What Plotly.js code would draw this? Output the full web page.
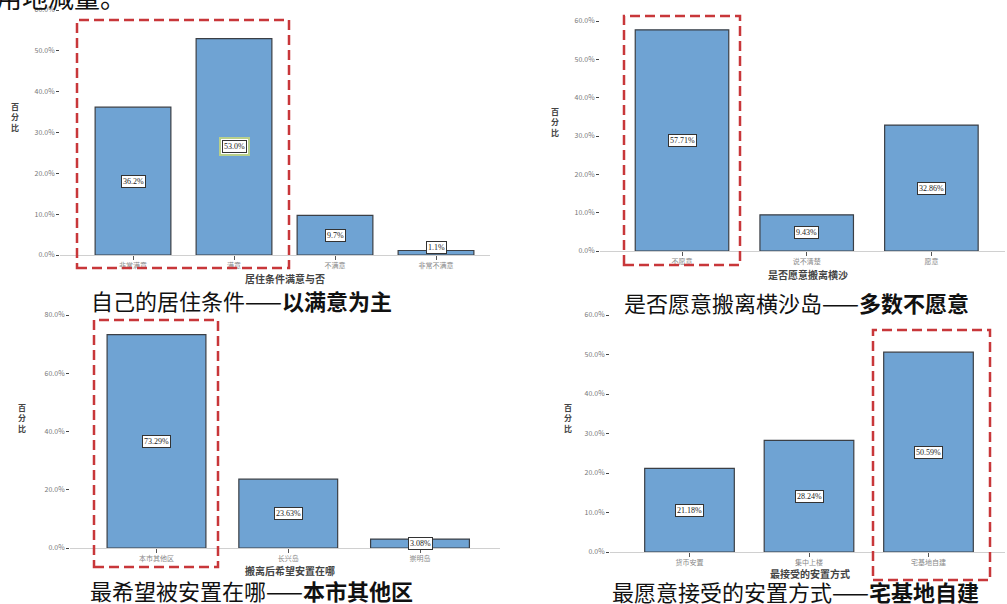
<!DOCTYPE html>
<html><head><meta charset="utf-8">
<script src="https://cdn.plot.ly/plotly-3.0.1.min.js"></script>
<style>body{margin:0;background:#fff}#c{width:1007px;height:604px}</style>
</head><body><div id="c"></div>
<script>
// ---- data ----
const cats1 = ["非常满意","满意","不满意","非常不满意"];
const vals1 = [36.2, 53.0, 9.7, 1.1];
const labs1 = ["36.2%","53.0%","9.7%","1.1%"];
const cats2 = ["不愿意","说不清楚","愿意"];
const vals2 = [57.71, 9.43, 32.86];
const cats3 = ["本市其他区","长兴岛","崇明岛"];
const vals3 = [73.29, 23.63, 3.08];
const cats4 = ["货币安置","集中上楼","宅基地自建"];
const vals4 = [21.18, 28.24, 50.59];
const xTitles = ["居住条件满意与否","是否愿意搬离横沙","搬离后希望安置在哪","最接受的安置方式"];
const capNorm = ["自己的居住条件——","是否愿意搬离横沙岛——","最希望被安置在哪——","最愿意接受的安置方式——"];
const capBold = ["以满意为主","多数不愿意","本市其他区","宅基地自建"];

const W=1007,H=604;
const px=x=>x/W, py=y=>1-y/H;
const FONT='"Noto Sans CJK SC", "Noto Sans", sans-serif';
const BAR='#6fa3d3', EDGE='#3b3f45';

// panel geometry (pixels)
const panels=[
 {cats:cats1,vals:vals1,labs:labs1,x0:60,x1:490,yb:255,yt:10,rmax:60,dt:10,c0:133,sp:101},
 {cats:cats2,vals:vals2,labs:vals2.map(v=>v.toFixed(2)+"%"),x0:600,x1:1005,yb:251,yt:21,rmax:60,dt:10,c0:682,sp:124.7},
 {cats:cats3,vals:vals3,labs:vals3.map(v=>v.toFixed(2)+"%"),x0:70,x1:500,yb:548,yt:315,rmax:80,dt:20,c0:156.5,sp:131.75},
 {cats:cats4,vals:vals4,labs:vals4.map(v=>v.toFixed(2)+"%"),x0:610,x1:1005,yb:552,yt:315,rmax:60,dt:10,c0:689.5,sp:119.5}
];
const yTitlePos=[[15,117],[555,122],[22,418],[568,418]];
const xTitlePos=[[285,278],[808,274],[290,570],[810,573]];
const capPos=[[241,300],[796,302],[251,590],[795,591]];
const boxes=[[77,20,289,268],[624,16,740,265],[94,320,218,567],[873,330,990,580]];

const data=[], annotations=[], shapes=[];
const layout={width:W,height:H,margin:{l:0,r:0,t:0,b:0},paper_bgcolor:'#fff',plot_bgcolor:'rgba(0,0,0,0)',
  showlegend:false,bargap:0.25,font:{family:FONT,color:'#333'}};

panels.forEach((p,i)=>{
  const n=i===0?'':String(i+1);
  const xa='x'+n, ya='y'+n;
  data.push({type:'bar',x:p.cats,y:p.vals,xaxis:xa,yaxis:ya,
    marker:{color:BAR,line:{color:EDGE,width:1.2}},hoverinfo:'skip'});
  const left=-(p.c0-p.x0)/p.sp, right=(p.x1-p.c0)/p.sp;
  layout['xaxis'+n]={domain:[px(p.x0),px(p.x1)],anchor:ya,range:[left,right],type:'category',
    showline:true,linecolor:'#d0d0d0',linewidth:1,ticks:'outside',ticklen:4,tickcolor:'#555',tickwidth:1,
    showgrid:false,zeroline:false,tickfont:{size:7,color:'#888',family:FONT},fixedrange:true};
  layout['yaxis'+n]={domain:[py(p.yb),py(p.yt)],anchor:xa,range:[0,p.rmax],dtick:p.dt,tick0:0,
    tickformat:'.1f',ticksuffix:'%',showline:false,showgrid:false,zeroline:false,
    ticks:'outside',ticklen:3,tickcolor:'#444',tickwidth:1,tickfont:{size:7,color:'#777',family:FONT},fixedrange:true};
  // value labels
  p.vals.forEach((v,k)=>{
    if(i===0&&k===1){
      annotations.push({xref:xa,yref:ya,x:p.cats[k],y:v/2,text:p.labs[k],showarrow:false,
        font:{size:8,color:'rgba(0,0,0,0)',family:'"Liberation Serif", serif'},bgcolor:'#fff',
        bordercolor:'#b9d08a',borderwidth:2,borderpad:3});
    }
    annotations.push({xref:xa,yref:ya,x:p.cats[k],y:v/2,yshift:v<2?5:0,text:p.labs[k],showarrow:false,
      font:{size:8,color:'#222',family:'"Liberation Serif", serif'},bgcolor:'#fff',
      bordercolor:'#333',borderwidth:1,borderpad:1});
  });
  // y title
  annotations.push({xref:'paper',yref:'paper',x:px(yTitlePos[i][0]),y:py(yTitlePos[i][1]),
    text:'<b>百<br>分<br>比</b>',showarrow:false,font:{size:8,color:'#444'},xanchor:'center',yanchor:'middle'});
  // x title
  annotations.push({xref:'paper',yref:'paper',x:px(xTitlePos[i][0]),y:py(xTitlePos[i][1]),
    text:'<b>'+xTitles[i]+'</b>',showarrow:false,font:{size:10,color:'#444'},xanchor:'center',yanchor:'middle'});
  // caption
  annotations.push({xref:'paper',yref:'paper',x:px(capPos[i][0]),y:py(capPos[i][1]),
    text:capNorm[i]+'<b>'+capBold[i]+'</b>',showarrow:false,font:{size:22,color:'#111'},xanchor:'center',yanchor:'middle'});
  const b=boxes[i];
  shapes.push({type:'rect',xref:'paper',yref:'paper',x0:px(b[0]),x1:px(b[2]),y0:py(b[3]),y1:py(b[1]),
    line:{color:'#c8373a',width:2.5,dash:'10px,5px'},fillcolor:'rgba(0,0,0,0)'});
});
// cut-off header text
annotations.push({xref:'paper',yref:'paper',x:px(-6),y:py(-3),text:'用地减量。',showarrow:false,
  font:{size:26,color:'#111'},xanchor:'left',yanchor:'middle'});

layout.annotations=annotations; layout.shapes=shapes;
Plotly.newPlot('c',data,layout,{displayModeBar:false,staticPlot:true});
</script></body></html>
